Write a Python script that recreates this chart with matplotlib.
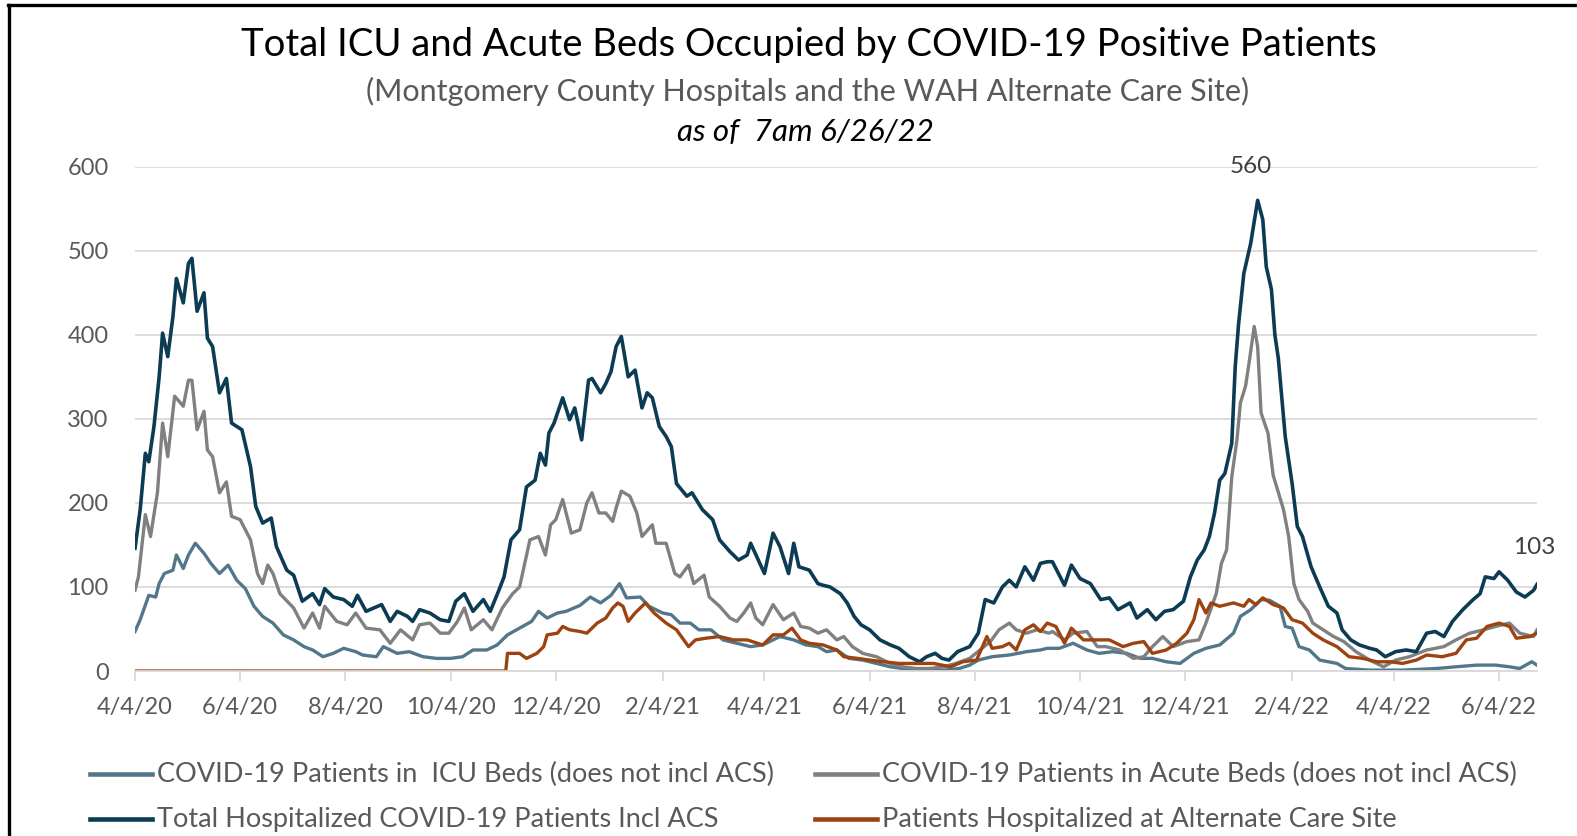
import pandas as pd
import matplotlib
matplotlib.use("Agg")
import matplotlib.pyplot as plt
import matplotlib.dates as mdates
from matplotlib.lines import Line2D

plt.rcParams['font.family'] = ['Lato', 'DejaVu Sans']

# day 0 = 4/4/20, last day = 6/26/22
start = pd.Timestamp('2020-04-04')
end = pd.Timestamp('2022-06-26')

icu_days = [0, 3, 8, 12, 14, 17, 22, 24, 28, 31, 35, 40, 44, 49, 54, 59, 64, 69, 74, 80, 86, 92, 98, 103,
            109, 115, 121, 128, 132, 140, 144, 152, 159, 167, 175, 183, 190, 196, 204, 210, 216, 223, 230,
            234, 239, 245, 250, 258, 264, 270, 276, 281, 285, 293, 298, 306, 311, 316, 322, 327, 334, 341,
            349, 357, 364, 374, 382, 389, 396, 401, 407, 414, 422, 430, 438, 445, 455, 469, 478, 484, 489,
            497, 507, 517, 525, 529, 536, 544, 552, 559, 567, 575, 583, 590, 598, 606, 614, 621, 629, 637,
            641, 647, 653, 658, 664, 667, 671, 675, 681, 687, 697, 702, 716, 735, 755, 766, 778, 789, 797,
            803, 810, 813]
icu_vals = [47, 61, 90, 88, 104, 116, 120, 138, 122, 138, 152, 140, 128, 116, 126, 108, 98, 77, 65, 57, 43,
            37, 29, 25, 17, 21, 27, 23, 19, 17, 29, 21, 23, 17, 15, 15, 17, 25, 25, 31, 43, 51, 59, 71, 63,
            69, 71, 78, 88, 81, 90, 104, 87, 88, 77, 69, 67, 57, 57, 49, 49, 37, 33, 29, 31, 41, 37, 31, 29,
            23, 25, 15, 13, 9, 5, 3, 1, 1, 3, 7, 13, 17, 19, 23, 25, 27, 27, 33, 25, 21, 23, 21, 15, 15, 11,
            9, 21, 27, 31, 45, 65, 73, 85, 84, 77, 53, 51, 29, 25, 13, 9, 3, 1, 1, 3, 5, 7, 7, 5, 3, 11, 7]

acute_days = [0, 2, 6, 9, 13, 16, 19, 23, 28, 31, 33, 36, 40, 42, 45, 49, 53, 56, 61, 67, 71, 74, 77, 80,
              84, 92, 98, 103, 107, 110, 117, 123, 128, 134, 142, 148, 154, 161, 165, 171, 177, 182, 187,
              191, 195, 202, 207, 213, 219, 223, 229, 234, 238, 241, 244, 248, 253, 258, 262, 265, 269, 273,
              277, 279, 282, 287, 291, 294, 300, 302, 308, 313, 316, 321, 324, 330, 333, 339, 345, 349, 353,
              357, 360, 364, 370, 376, 382, 386, 391, 396, 401, 407, 411, 416, 422, 430, 438, 445, 453, 461,
              469, 476, 484, 490, 496, 501, 507, 511, 517, 523, 530, 532, 539, 544, 552, 558, 563, 571, 579,
              585, 590, 596, 602, 610, 617, 621, 627, 630, 633, 636, 639, 641, 644, 646, 649, 651, 653, 657,
              660, 666, 669, 672, 675, 680, 683, 689, 695, 701, 708, 716, 724, 731, 739, 749, 759, 766, 774,
              782, 789, 797, 803, 811, 813]
acute_vals = [96, 112, 186, 160, 212, 295, 255, 327, 315, 346, 346, 287, 309, 263, 255, 212, 225, 184, 180,
              156, 116, 104, 126, 116, 92, 75, 51, 69, 51, 77, 59, 55, 69, 51, 49, 33, 49, 37, 55, 57, 45,
              45, 59, 75, 49, 61, 49, 75, 92, 100, 156, 160, 138, 174, 180, 204, 164, 168, 200, 212, 188,
              188, 178, 194, 214, 208, 188, 160, 174, 152, 152, 116, 112, 126, 104, 114, 88, 77, 63, 59, 69,
              81, 63, 55, 79, 61, 69, 53, 51, 45, 49, 37, 41, 29, 21, 17, 9, 5, 3, 3, 5, 9, 15, 25, 35, 49,
              57, 49, 45, 49, 45, 47, 37, 45, 47, 29, 29, 25, 15, 17, 29, 41, 29, 35, 37, 57, 92, 128, 144,
              231, 275, 319, 339, 366, 410, 386, 307, 283, 233, 192, 160, 104, 85, 71, 57, 49, 41, 35, 23,
              13, 5, 13, 17, 25, 29, 37, 45, 49, 53, 57, 45, 41, 49]

total_days = [0, 3, 6, 8, 11, 14, 16, 19, 22, 24, 28, 31, 33, 36, 40, 42, 45, 49, 53, 56, 62, 67, 70, 74,
              79, 82, 88, 92, 97, 103, 107, 110, 115, 121, 126, 129, 134, 143, 148, 152, 158, 161, 165, 171,
              177, 182, 186, 191, 196, 202, 206, 211, 214, 218, 223, 227, 232, 235, 238, 240, 243, 248, 252,
              255, 259, 263, 265, 270, 273, 276, 279, 282, 286, 290, 294, 297, 300, 304, 308, 311, 314, 320,
              323, 329, 335, 339, 345, 350, 355, 357, 361, 365, 370, 374, 379, 382, 385, 391, 396, 399, 403,
              409, 413, 417, 421, 426, 432, 438, 443, 449, 455, 459, 464, 468, 472, 477, 484, 489, 493, 498,
              503, 507, 511, 516, 521, 525, 529, 532, 539, 543, 548, 554, 560, 565, 570, 577, 581, 587, 592,
              597, 602, 608, 612, 616, 620, 623, 626, 629, 632, 636, 638, 640, 643, 647, 651, 654, 656, 659,
              661, 663, 667, 671, 674, 677, 682, 687, 692, 697, 700, 705, 710, 716, 720, 725, 731, 737, 743,
              749, 754, 759, 764, 770, 776, 780, 783, 788, 791, 796, 801, 806, 811, 813]
total_vals = [146, 192, 259, 249, 291, 350, 402, 374, 422, 467, 438, 485, 491, 428, 450, 396, 386, 331, 348,
              295, 287, 243, 196, 176, 182, 148, 120, 114, 83, 92, 79, 98, 88, 85, 77, 90, 71, 79, 59, 71,
              65, 59, 73, 69, 61, 59, 83, 92, 71, 85, 71, 96, 112, 156, 168, 219, 227, 259, 245, 283, 295,
              325, 299, 313, 275, 346, 348, 331, 342, 356, 386, 398, 350, 358, 313, 331, 325, 291, 279, 267,
              223, 208, 212, 192, 180, 156, 142, 132, 138, 152, 134, 116, 164, 148, 116, 152, 124, 120, 104,
              102, 100, 92, 81, 65, 55, 49, 37, 31, 27, 17, 11, 17, 21, 15, 13, 23, 29, 45, 85, 81, 100,
              108, 100, 124, 108, 128, 130, 130, 102, 126, 110, 104, 85, 87, 73, 81, 63, 73, 61, 71, 73, 83,
              112, 132, 144, 160, 188, 227, 235, 271, 362, 414, 473, 509, 560, 537, 481, 454, 400, 372, 279,
              223, 172, 160, 124, 100, 77, 69, 49, 37, 31, 27, 25, 17, 23, 25, 23, 45, 47, 41, 59, 73, 85,
              92, 112, 110, 118, 108, 94, 88, 96, 103]

acs_days = [0, 215, 216, 223, 227, 233, 237, 239, 245, 248, 252, 258, 262, 268, 273, 277, 280, 283, 286,
            290, 296, 301, 308, 314, 321, 325, 331, 339, 347, 355, 364, 370, 376, 381, 386, 391, 399, 407,
            411, 419, 426, 434, 443, 453, 463, 473, 480, 488, 494, 497, 503, 507, 511, 516, 521, 525, 529,
            534, 539, 543, 550, 558, 565, 573, 579, 585, 590, 598, 604, 610, 614, 617, 621, 624, 629, 637,
            643, 646, 650, 654, 660, 666, 671, 677, 683, 689, 697, 704, 712, 720, 728, 735, 743, 749, 758,
            766, 772, 778, 784, 791, 797, 801, 809, 813]
acs_vals = [0, 0, 21, 21, 15, 21, 29, 43, 45, 53, 49, 47, 45, 57, 63, 75, 81, 77, 59, 69, 81, 69, 57, 49,
            29, 37, 39, 41, 37, 37, 31, 43, 43, 51, 37, 33, 31, 25, 17, 15, 13, 11, 9, 9, 9, 5, 11, 13, 41,
            27, 29, 33, 25, 49, 55, 47, 57, 53, 33, 51, 37, 37, 37, 29, 33, 35, 21, 25, 33, 45, 61, 85, 69,
            81, 77, 81, 77, 85, 79, 87, 79, 75, 61, 57, 45, 37, 29, 17, 15, 11, 11, 9, 13, 19, 17, 21, 37,
            39, 53, 57, 53, 39, 41, 45]

series = [
    ('COVID-19 Patients in  ICU Beds (does not incl ACS)', icu_days, icu_vals, '#52778A', 2.4),
    ('COVID-19 Patients in Acute Beds (does not incl ACS)', acute_days, acute_vals, '#808080', 2.4),
    ('Total Hospitalized COVID-19 Patients Incl ACS', total_days, total_vals, '#0C3B54', 2.6),
    ('Patients Hospitalized at Alternate Care Site', acs_days, acs_vals, '#9C4310', 2.4),
]

W, H = 1577, 836
fig = plt.figure(figsize=(W / 100, H / 100), dpi=100)
ax = fig.add_axes([135 / W, 1 - 671 / H, 1402 / W, (671 - 166.7) / H])

lines = []
for name, days, vals, color, lw in series:
    dates = start + pd.to_timedelta(days, unit='D')
    ln, = ax.plot(dates, vals, color=color, lw=lw, label=name, solid_joinstyle='round')
    lines.append(ln)

ax.set_xlim(start, end)
ax.set_ylim(0, 600)
ax.set_yticks(range(0, 601, 100))
ax.grid(axis='y', color='#D9D9D9', lw=1.3)
ax.set_axisbelow(True)
for s in ['top', 'right', 'left']:
    ax.spines[s].set_visible(False)
ax.spines['bottom'].set_color('#D9D9D9')
ax.spines['bottom'].set_linewidth(1.3)

xticks = pd.date_range('2020-04-04', '2022-06-04', freq=pd.DateOffset(months=2))
ax.set_xticks(xticks)
ax.xaxis.set_major_formatter(mdates.DateFormatter('%-m/%-d/%y'))
ax.tick_params(axis='x', colors='#D9D9D9', length=7, width=1.3, pad=12, labelcolor='#595959', labelsize=17)
ax.tick_params(axis='y', length=0, pad=19, labelcolor='#595959', labelsize=17)

# data labels for peak and latest value
i_peak = total_vals.index(max(total_vals))
ax.annotate(str(total_vals[i_peak]), (start + pd.Timedelta(days=total_days[i_peak]), total_vals[i_peak]),
            xytext=(-5, 17), textcoords='offset points', ha='center', va='bottom',
            fontsize=17.5, color='#404040')
ax.annotate(str(total_vals[-1]), (end, total_vals[-1]),
            xytext=(-2, 19), textcoords='offset points', ha='center', va='bottom',
            fontsize=17.5, color='#404040')

fig.text(0.513, 1 - 45 / H, 'Total ICU and Acute Beds Occupied by COVID-19 Positive Patients',
         ha='center', va='center', fontsize=27.5, color='black')
fig.text(0.512, 1 - 91 / H, '(Montgomery County Hospitals and the WAH Alternate Care Site)',
         ha='center', va='center', fontsize=22, color='#595959')
fig.text(0.511, 1 - 132 / H, 'as of  7am 6/26/22',
         ha='center', va='center', fontsize=22.5, style='italic', color='black')

# legend, two rows of two entries
legend_pos = [(90, 774), (815, 774), (90, 819), (815, 819)]
for ln, (lx, ly) in zip(lines, legend_pos):
    fig.add_artist(Line2D([lx / W, (lx + 62) / W], [1 - ly / H, 1 - ly / H],
                          color=ln.get_color(), lw=3.3))
    fig.text((lx + 67) / W, 1 - ly / H, ln.get_label(), ha='left', va='center',
             fontsize=19.5, color='#595959')

# frame around the chart
fig.add_artist(Line2D([8 / W, 1], [1 - 5 / H, 1 - 5 / H], color='black', lw=2.4))
fig.add_artist(Line2D([9 / W, 9 / W], [0, 1 - 5 / H], color='black', lw=2.4))

fig.savefig('out.png', dpi=100)
